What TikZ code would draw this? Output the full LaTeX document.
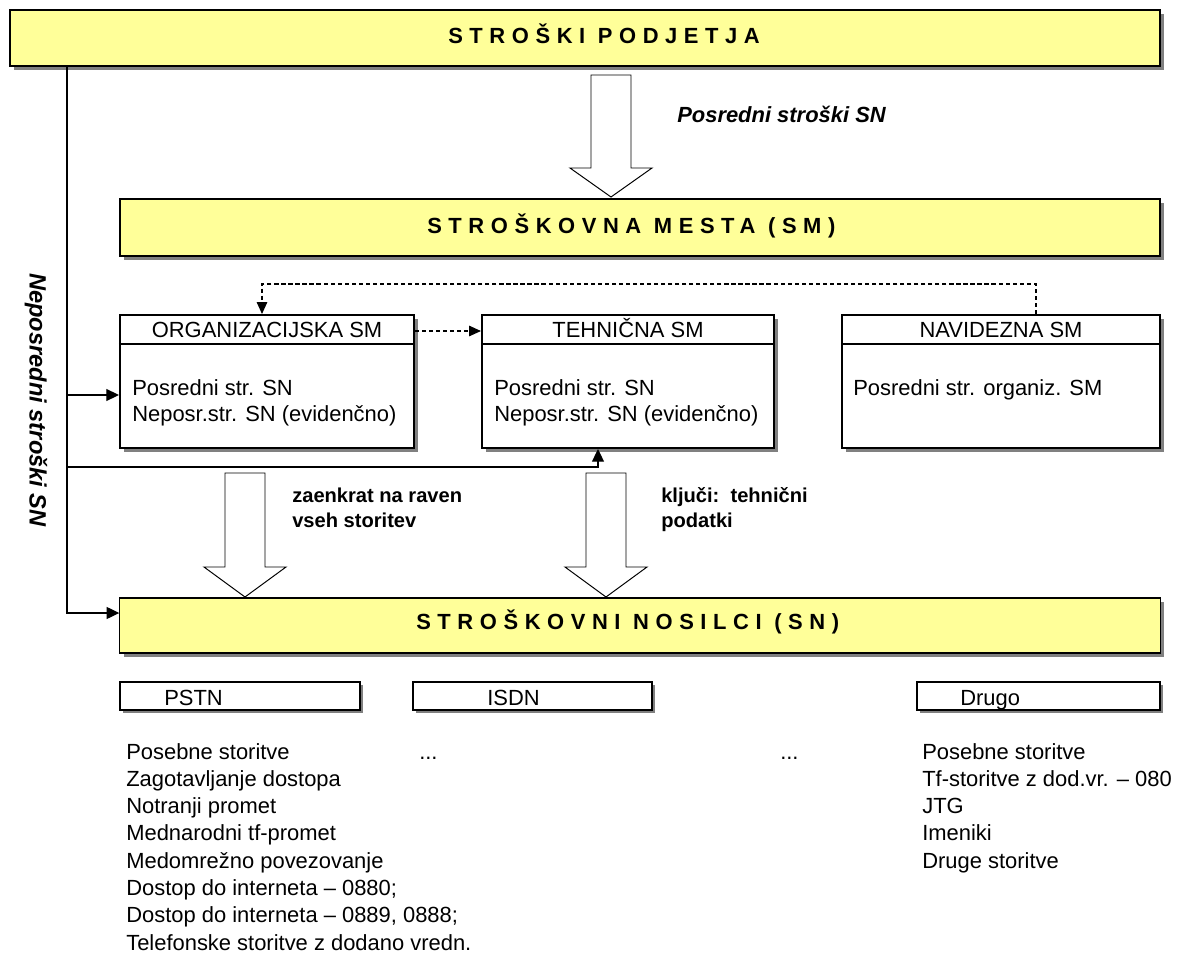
\documentclass[tikz,border=0pt]{standalone}
\usepackage{fontspec}
\setmainfont{Liberation Sans}
\newfontfamily\naslovfont[LetterSpace=30]{Liberation Sans}
\usepackage{tikz}
\usetikzlibrary{positioning, arrows.meta, shadows, calc}
\usepackage{xcolor}
\definecolor{SMYellow}{HTML}{FFFF99}
\definecolor{SMShadow}{HTML}{808080}

% debela puscica: x, zacetek, baza konice, konica
\newcommand{\debelapuscica}[4]{%
  \draw[line width=0.7pt, fill=white] (#1-20,#2) -- (#1+20,#2) -- (#1+20,#3)
    -- (#1+41,#3) -- (#1,#4) -- (#1-41,#3) -- (#1-20,#3) -- cycle;}

\begin{document}
\begin{tikzpicture}[x=0.025cm, y=-0.025cm,
  font=\fontsize{15.6}{18}\selectfont,
  senca/.style={drop shadow={shadow xshift=2.6pt, shadow yshift=-2.6pt, fill=SMShadow, opacity=1}},
  rumena/.style={draw=black, fill=SMYellow, inner sep=0, senca},
  smbox/.style={draw=black, fill=white, line width=1.4pt, inner sep=0, senca},
  malabox/.style={draw=black, fill=white, line width=0.8pt, inner sep=0,
    drop shadow={shadow xshift=2pt, shadow yshift=-2pt, fill=SMShadow, opacity=1}},
  naslov/.style={anchor=base west, inner sep=0, font=\fontsize{15.6}{18}\naslovfont\bfseries},
  besedilo/.style={anchor=base west, inner sep=0},
  poudarek/.style={inner sep=0, font=\fontsize{15.6}{18}\selectfont\bfseries\itshape},
  oznaka/.style={anchor=base west, inner sep=0, font=\fontsize{14.3}{17}\selectfont\bfseries},
  povezava/.style={line width=0.9pt, -{Triangle[length=9pt, width=8.5pt]}},
  crtkano/.style={line width=0.8pt, dash pattern=on 3pt off 2pt, -{Triangle[length=8.5pt, width=7.5pt]}}]
  \useasboundingbox (0,0) rectangle (1186,960);

  % Stroski podjetja
  \node[rumena, line width=1.6pt, minimum width=28.75cm, minimum height=1.4cm] (podjetje) at (585,38) {};
  \node[naslov] (podjetje-t) at (448,43) {STROŠKI PODJETJA};

  % Posredni stroski
  \debelapuscica{611}{75}{168}{197}
  \node[poudarek, anchor=base west] (posredni) at (677,122) {Posredni stroški SN};

  % Stroskovna mesta
  \node[rumena, line width=1.6pt, minimum width=26cm, minimum height=1.425cm] (sm) at (640,227.5) {};
  \node[naslov] (sm-t) at (427,233) {STROŠKOVNA MESTA (SM)};

  % Vrste SM
  \node[smbox, minimum width=7.35cm, minimum height=3.325cm] (org) at (267,381.5) {};
  \node[smbox, minimum width=7.3cm, minimum height=3.325cm] (teh) at (628,381.5) {};
  \node[smbox, minimum width=7.95cm, minimum height=3.325cm] (nav) at (1001,381.5) {};
  \foreach \b in {org,teh,nav}
    \draw[line width=1.4pt] (\b.west |- 0,344) -- (\b.east |- 0,344);

  \node[anchor=base, inner sep=0] (org-h) at (267,337) {ORGANIZACIJSKA SM};
  \node[anchor=base, inner sep=0] (teh-h) at (628,337) {TEHNIČNA SM};
  \node[anchor=base, inner sep=0] (nav-h) at (1001,337) {NAVIDEZNA SM};

  \node[besedilo] (org-1) at (132,395) {Posredni str. SN};
  \node[besedilo] (org-2) at (132,421) {Neposr.str. SN (evidenčno)};
  \node[besedilo] (teh-1) at (494,395) {Posredni str. SN};
  \node[besedilo] (teh-2) at (494,421) {Neposr.str. SN (evidenčno)};
  \node[besedilo] (nav-1) at (853,395) {Posredni str. organiz. SM};

  % Crtkane povezave
  \draw[crtkano] (nav.north -| 1036,0) -- (1036,284) -- (262,284) -- (org.north -| 262,0);
  \draw[crtkano] (org.east |- 0,331) -- (teh.west |- 0,331);

  % Stroskovni nosilci
  \node[rumena, line width=0.8pt, minimum width=26cm, minimum height=1.375cm] (sn) at (640,625.5) {};
  \node[naslov] (sn-t) at (416,629) {STROŠKOVNI NOSILCI (SN)};

  % Neposredni stroski
  \node[poudarek, font=\fontsize{16.8}{19}\selectfont\bfseries\itshape, rotate=-90] (neposredni) at (36,400) {Neposredni stroški SN};
  \draw[povezava] (podjetje.south -| 67,0) -- (67,613) -- (sn.west |- 0,613);
  \draw[povezava] (67,395) -- (org.west |- 0,395);
  \draw[povezava] (67,467) -- (598,467) -- (teh.south -| 598,0);

  % Razporejanje na SN
  \debelapuscica{245}{473}{567}{597}
  \debelapuscica{606}{473}{567}{597}
  \node[oznaka] (zaenkrat-1) at (292,502) {zaenkrat na raven};
  \node[oznaka] (zaenkrat-2) at (292,527) {vseh storitev};
  \node[oznaka] (kljuci-1) at (661,502) {ključi:\ \ tehnični};
  \node[oznaka] (kljuci-2) at (661,527) {podatki};

  % Skupine storitev
  \node[malabox, minimum width=6cm, minimum height=0.7cm] (pstn) at (240,696) {};
  \node[malabox, minimum width=5.975cm, minimum height=0.7cm] (isdn) at (532.5,696) {};
  \node[malabox, minimum width=6.075cm, minimum height=0.7cm] (drugo) at (1038.5,696) {};
  \node[besedilo] (pstn-t) at (164,705) {PSTN};
  \node[besedilo] (isdn-t) at (487,705) {ISDN};
  \node[besedilo] (drugo-t) at (960,705) {Drugo};

  \foreach \t [count=\i from 0] in {Posebne storitve, Zagotavljanje dostopa,
      Notranji promet, Mednarodni tf-promet, Medomrežno povezovanje,
      Dostop do interneta – 0880;, {Dostop do interneta – 0889, 0888;},
      Telefonske storitve z dodano vredn.}
    \node[besedilo] (pstn-\i) at (126,759+27.3*\i) {\t};
  \node[besedilo] (isdn-0) at (419,759) {...};
  \node[besedilo] (vec-0) at (780,759) {...};
  \foreach \t [count=\i from 0] in {Posebne storitve, Tf-storitve z dod.vr. – 080,
      JTG, Imeniki, Druge storitve}
    \node[besedilo] (drugo-\i) at (922,759+27.3*\i) {\t};
\end{tikzpicture}
\end{document}
